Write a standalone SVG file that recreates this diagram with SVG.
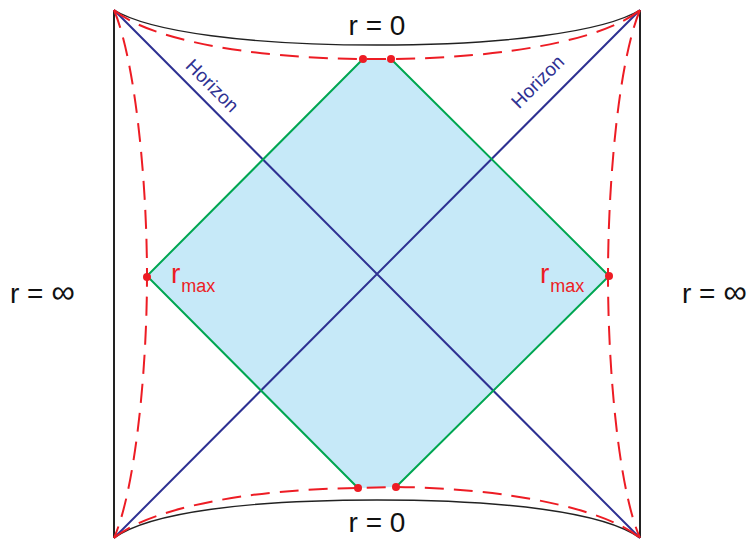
<svg xmlns="http://www.w3.org/2000/svg" width="751" height="540" viewBox="0 0 751 540">
<style>
.bd{fill:none;stroke:#222;stroke-width:2}
.bc{fill:none;stroke:#222;stroke-width:1.4}
.rd{fill:none;stroke:#ed1c24;stroke-width:2;stroke-dasharray:19 10}
.hz{fill:none;stroke:#2e3192;stroke-width:2}
.gr{fill:none;stroke:#00a651;stroke-width:2}
.dot{fill:#ed1c24}
.t{font-family:"Liberation Sans",Arial,sans-serif;fill:#111}
.rt{font-family:"Liberation Sans",Arial,sans-serif;fill:#ed1c24}
.ht{font-family:"Liberation Sans",Arial,sans-serif;fill:#2e3192;font-size:19px}
</style>
<rect width="751" height="540" fill="#fff"/>
<g id="region">
<polygon points="363,59 391,59 609,276 396,487 358,488 147,276" fill="#c6e9f8"/>
</g>
<g id="connectors">
<path class="bd" d="M114,10 V538 M640,10 V538"/>
<path class="bc" d="M114,10 C150,32 250,45 377,45 C504,45 604,32 640,10"/>
<path class="bc" d="M114,538 C150,512 250,500 377,500 C504,500 604,512 640,538"/>
<path class="hz" d="M114,10 L640,538 M640,10 L114,538"/>
<path class="gr" d="M363,59 L147,276 L358,488 M391,59 L609,276 L396,487"/>
<path class="rd" d="M114,10 C150,40 250,58 363,59 L391,59 C504,58 604,40 640,10"/>
<path class="rd" d="M114,538 C150,508 250,489 358,488 L396,487 C504,488 604,508 640,538"/>
<path class="rd" d="M114,10 C135,60 147,180 147,276 C147,372 135,490 114,538"/>
<path class="rd" d="M640,10 C619,60 608,180 608,276 C608,372 619,490 640,538"/>
</g>
<g id="points">
<circle class="dot" cx="363" cy="59" r="4"/>
<circle class="dot" cx="391" cy="59" r="4"/>
<circle class="dot" cx="147" cy="277" r="4"/>
<circle class="dot" cx="609" cy="276" r="4"/>
<circle class="dot" cx="358" cy="488" r="4"/>
<circle class="dot" cx="396" cy="487" r="4"/>
</g>
<g id="labels">
<text class="t" x="377" y="35" font-size="28" text-anchor="middle">r = 0</text>
<text class="t" x="377" y="532" font-size="28" text-anchor="middle">r = 0</text>
<text class="t" x="10" y="303" font-size="28">r = <tspan font-size="33">∞</tspan></text>
<text class="t" x="682" y="303" font-size="28">r = <tspan font-size="33">∞</tspan></text>
<text class="rt" x="171" y="283" font-size="28">r<tspan font-size="18" dx="1" dy="9">max</tspan></text>
<text class="rt" x="540" y="283" font-size="28">r<tspan font-size="18" dx="1" dy="9">max</tspan></text>
<text class="ht" transform="translate(212,86) rotate(45)" text-anchor="middle" dy="6">Horizon</text>
<text class="ht" transform="translate(538,82) rotate(-45)" text-anchor="middle" dy="6">Horizon</text>
</g>
</svg>
